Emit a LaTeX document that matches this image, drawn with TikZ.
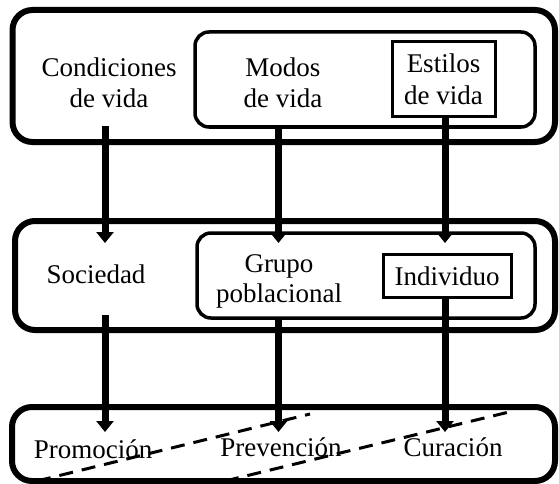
\documentclass[tikz,border=0pt]{standalone}
\usepackage{fontspec}
\setmainfont{Liberation Serif}
\usetikzlibrary{arrows.meta}
\begin{document}
\begin{tikzpicture}[x=1pt,y=-1pt,
  outerbox/.style={draw, line width=6pt, rounded corners=20pt, inner sep=0pt, outer sep=0pt},
  innerbox/.style={draw, line width=3.5pt, rounded corners=14pt, inner sep=0pt, outer sep=0pt},
  sqbox/.style={draw, line width=3pt, inner sep=0pt, outer sep=0pt},
  lbl/.style={font=\fontsize{27}{32}\selectfont, align=center, inner sep=0pt, anchor=base},
  flow/.style={line width=7pt, -{Triangle[width=17pt,length=11pt]}},
  split/.style={line width=3pt, dash pattern=on 14pt off 9pt},
]
\useasboundingbox (0,0) rectangle (559,484);
% boxes
\node[outerbox, minimum width=542.5pt, minimum height=132pt] (topout) at (283.75,76) {};
\node[innerbox, minimum width=340pt, minimum height=95pt] (topin) at (365,79.5) {};
\node[sqbox, minimum width=103pt, minimum height=75pt] (estbox) at (443.5,79.5) {};
\node[outerbox, minimum width=540pt, minimum height=109pt] (midout) at (285,275.5) {};
\node[innerbox, minimum width=338pt, minimum height=85pt] (midin) at (366,275.5) {};
\node[sqbox, minimum width=128pt, minimum height=43pt] (indbox) at (447,275.5) {};
\node[outerbox, minimum width=543pt, minimum height=74pt] (botout) at (283.5,444) {};
% texts (base anchor = baseline of last line)
\node[lbl] (cond) at (109,108) {Condiciones\\de vida};
\node[lbl] (modos) at (283,108) {Modos\\de vida};
\node[lbl] (estilos) at (443.5,105) {Estilos\\de vida};
\node[lbl] (soc) at (96,283) {Sociedad};
\node[lbl, font=\fontsize{27}{30}\selectfont] (grupo) at (279,302) {Grupo\\poblacional};
\node[lbl] (ind) at (447,285) {Individuo};
\node[lbl] (promo) at (93,458) {Promoción};
\node[lbl] (prev) at (281,456) {Prevención};
\node[lbl] (cur) at (453,456) {Curación};
% connector ends
\coordinate (s1) at (105,126);
\coordinate (s2) at (278.5,127);
\coordinate (s3) at (445,117);
\coordinate (e1) at (105,243);
\coordinate (e2) at (278.5,243);
\coordinate (e3) at (445,243);
\coordinate (t1) at (105,315);
\coordinate (t2) at (278.5,318);
\coordinate (t3) at (445,297);
\coordinate (f1) at (105,432);
\coordinate (f2) at (278.5,432);
\coordinate (f3) at (445,432);
\draw[flow] (s1) -- (e1);
\draw[flow] (s2) -- (e2);
\draw[flow] (s3) -- (e3);
\draw[flow] (t1) -- (f1);
\draw[flow] (t2) -- (f2);
\draw[flow] (t3) -- (f3);
% dashed dividers
\coordinate (d1a) at (37,481);
\coordinate (d1b) at (310,414);
\coordinate (d2a) at (225,481);
\coordinate (d2b) at (509,412);
\draw[split] (d1a) -- (d1b);
\draw[split] (d2a) -- (d2b);
\end{tikzpicture}
\end{document}
